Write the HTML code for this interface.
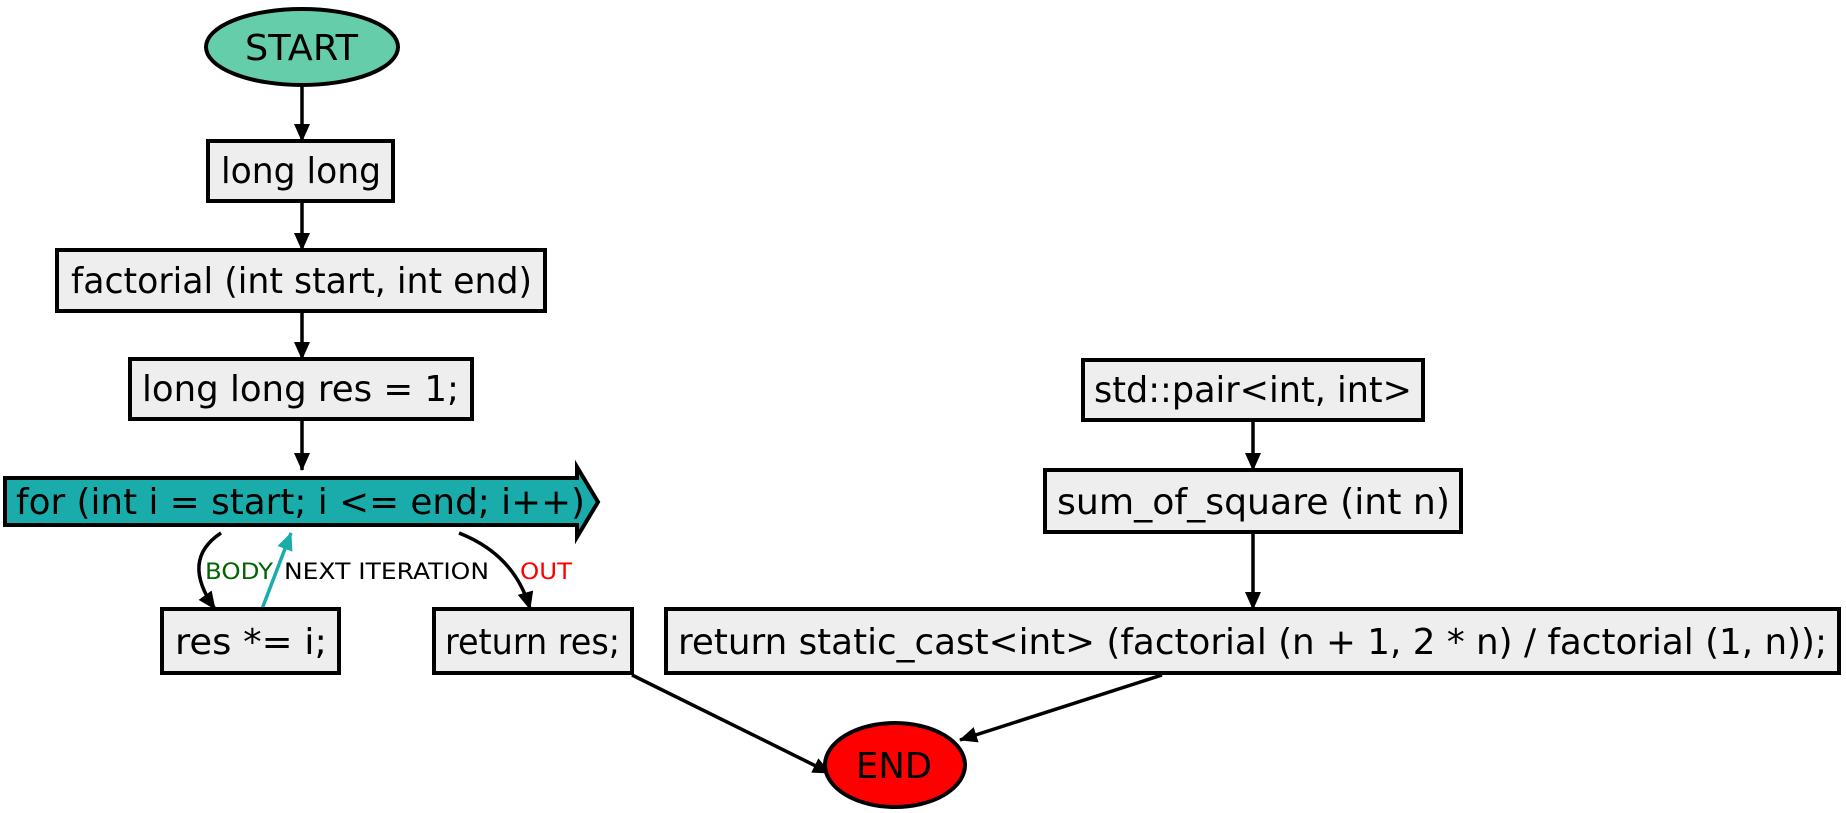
<!DOCTYPE html>
<html><head><meta charset="utf-8"><style>html,body{margin:0;padding:0;background:#fff}svg{display:block}</style></head>
<body>
<svg width="1846" height="813" viewBox="0 0 1846 813" xmlns="http://www.w3.org/2000/svg" font-family="'DejaVu Sans','Liberation Sans',sans-serif">
<defs>
<marker id="ab" markerWidth="18" markerHeight="16" refX="17" refY="8" orient="auto" markerUnits="userSpaceOnUse"><path d="M0,0 L18,8 L0,16 z" fill="#000"/></marker>
<marker id="at" markerWidth="18" markerHeight="16" refX="17" refY="8" orient="auto" markerUnits="userSpaceOnUse"><path d="M0,0 L18,8 L0,16 z" fill="#1aabab"/></marker>
</defs>
<g stroke="#000" stroke-width="3.5" fill="none">
<line x1="302" y1="86" x2="302" y2="141" marker-end="url(#ab)"/>
<line x1="302" y1="201" x2="302" y2="250" marker-end="url(#ab)"/>
<line x1="302" y1="311" x2="302" y2="359" marker-end="url(#ab)"/>
<line x1="302" y1="419" x2="302" y2="470" marker-end="url(#ab)"/>
<path d="M221,533 Q180,560 215,609" marker-end="url(#ab)"/>
<path d="M459,533 Q515,555 530,609" marker-end="url(#ab)"/>
<line x1="632" y1="675" x2="830" y2="773" marker-end="url(#ab)"/>
<line x1="1162" y1="675" x2="960" y2="740" marker-end="url(#ab)"/>
<line x1="1253" y1="420" x2="1253" y2="470" marker-end="url(#ab)"/>
<line x1="1253" y1="532" x2="1253" y2="609" marker-end="url(#ab)"/>
</g>
<line x1="262" y1="609" x2="291" y2="533" stroke="#1aabab" stroke-width="3.5" marker-end="url(#at)"/>
<ellipse cx="302" cy="47" rx="96" ry="38" fill="#66cdaa" stroke="#000" stroke-width="4"/>
<g fill="#eeeeee" stroke="#000" stroke-width="4">
<rect x="208" y="141" width="185" height="60"/>
<rect x="57" y="250" width="488" height="61"/>
<rect x="130" y="359" width="342" height="60"/>
<rect x="162" y="609" width="177" height="64"/>
<rect x="434" y="609" width="198" height="64"/>
<rect x="1083" y="360" width="340" height="60"/>
<rect x="1045" y="470" width="416" height="62"/>
<rect x="666" y="609" width="1173" height="64"/>
</g>
<path d="M5,478 L577,478 L577,467 L598,502 L577,537 L577,525 L5,525 Z" fill="#1aabab" stroke="#000" stroke-width="4"/>
<ellipse cx="895" cy="765" rx="70" ry="42" fill="#ff0000" stroke="#000" stroke-width="4"/>
<g font-size="36" fill="#000">
<text x="245" y="60" textLength="113" lengthAdjust="spacingAndGlyphs">START</text>
<text x="221" y="183" textLength="160" lengthAdjust="spacingAndGlyphs">long long</text>
<text x="71" y="293" textLength="461" lengthAdjust="spacingAndGlyphs">factorial (int start, int end)</text>
<text x="142" y="401" textLength="317" lengthAdjust="spacingAndGlyphs">long long res = 1;</text>
<text x="16" y="514" textLength="569" lengthAdjust="spacingAndGlyphs">for (int i = start; i &lt;= end; i++)</text>
<text x="175" y="654" textLength="152" lengthAdjust="spacingAndGlyphs">res *= i;</text>
<text x="445" y="654" textLength="175" lengthAdjust="spacingAndGlyphs">return res;</text>
<text x="1094" y="402" textLength="318" lengthAdjust="spacingAndGlyphs">std::pair&lt;int, int&gt;</text>
<text x="1057" y="514" textLength="393" lengthAdjust="spacingAndGlyphs">sum_of_square (int n)</text>
<text x="678" y="654" textLength="1149" lengthAdjust="spacingAndGlyphs">return static_cast&lt;int&gt; (factorial (n + 1, 2 * n) / factorial (1, n));</text>
<text x="856" y="778" textLength="76" lengthAdjust="spacingAndGlyphs">END</text>
</g>
<g font-size="22">
<text x="205" y="579" fill="#006400" textLength="68" lengthAdjust="spacingAndGlyphs">BODY</text>
<text x="284" y="579" fill="#000" textLength="205" lengthAdjust="spacingAndGlyphs">NEXT ITERATION</text>
<text x="520" y="579" fill="#ff0000" textLength="52" lengthAdjust="spacingAndGlyphs">OUT</text>
</g>
</svg>
</body></html>
